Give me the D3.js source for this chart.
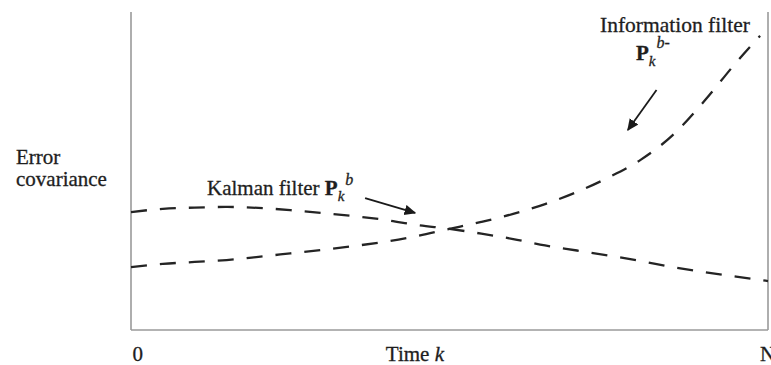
<!DOCTYPE html>
<html>
<head>
<meta charset="utf-8">
<script src="https://cdn.jsdelivr.net/npm/d3@7"></script>
<style>
  body { margin: 0; background: #fff; }
  svg { display: block; }
  text { font-family: "Liberation Serif", "Times New Roman", serif; fill: #1e1e1e; stroke: #1e1e1e; stroke-width: 0.3px; }
</style>
</head>
<body>
<svg id="chart" width="771" height="365"></svg>
<script>
// Time steps k = 0 .. N (N = 20)
const timeSteps = d3.range(0, 21);

// Kalman filter forward covariance P_k^b
const kalmanCov = [37.1, 38.1, 38.5, 38.7, 38.4, 37.7, 36.8, 35.8, 34.6, 33.0,
                   31.8, 30.3, 28.6, 26.6, 25.0, 23.4, 21.7, 19.8, 18.2, 16.8, 15.4];

// Information filter backward covariance P_k^b-
const infoSteps = d3.range(0, 20).concat([19.75]);
const infoCov = [19.8, 20.8, 21.4, 22.0, 23.0, 24.1, 25.2, 26.4, 27.8, 29.6,
                 31.8, 34.0, 36.5, 39.6, 43.4, 48.0, 53.5, 61.2, 72.0, 84.1, 92.5];

// Bottom axis labels and where they sit along k
const tickLabels = ["0", "Time", "N"];
const tickSteps = [0.05, 8, 19.75];

const svg = d3.select("#chart");

const x = d3.scaleLinear().domain([0, 20]).range([131, 768]);
const y = d3.scaleLinear().domain([0, 100]).range([330, 12]);

// Frame: left axis, bottom axis, right edge
const frame = svg.append("g")
  .attr("stroke", "#9a9a9a")
  .attr("stroke-width", 1.6)
  .attr("fill", "none");
frame.append("line").attr("x1", x(0)).attr("x2", x(0)).attr("y1", y(100)).attr("y2", y(0));
frame.append("line").attr("x1", x(0)).attr("x2", x(20)).attr("y1", y(0)).attr("y2", y(0));
frame.append("line").attr("x1", x(20)).attr("x2", x(20)).attr("y1", y(100)).attr("y2", y(0));

// Dashed covariance curves
const line = d3.line()
  .x(d => x(d[0]))
  .y(d => y(d[1]))
  .curve(d3.curveMonotoneX);

const curves = svg.append("g")
  .attr("fill", "none")
  .attr("stroke", "#242424")
  .attr("stroke-width", 2.3)
  .attr("stroke-dasharray", "16,13");

curves.append("path").attr("d", line(d3.zip(timeSteps, kalmanCov)));
curves.append("path").attr("d", line(d3.zip(infoSteps, infoCov)));

// Arrows pointing to each curve
svg.append("defs").append("marker")
  .attr("id", "head")
  .attr("viewBox", "0 0 10 10")
  .attr("refX", 9).attr("refY", 5)
  .attr("markerWidth", 6.5).attr("markerHeight", 6.5)
  .attr("markerUnits", "strokeWidth")
  .attr("orient", "auto")
  .append("path").attr("d", "M0,0.5 L10,5 L0,9.5 Z").attr("fill", "#1a1a1a");

const arrows = [
  { from: [7.35, 41.5], to: [8.92, 36.8] },
  { from: [16.5, 75.5], to: [15.6, 62.9] }
];
svg.append("g").selectAll("line").data(arrows).join("line")
  .attr("x1", d => x(d.from[0])).attr("y1", d => y(d.from[1]))
  .attr("x2", d => x(d.to[0])).attr("y2", d => y(d.to[1]))
  .attr("stroke", "#1a1a1a")
  .attr("stroke-width", 1.8)
  .attr("marker-end", "url(#head)");

// Axis labels along the bottom
const labels = svg.append("g").attr("font-size", 21);
tickLabels.forEach((t, i) => {
  const tx = labels.append("text").attr("x", x(tickSteps[i])).attr("y", 361).text(t);
  if (t === "Time") tx.append("tspan").attr("font-style", "italic").text(" k");
});

// Y axis title
const yTitle = svg.append("text").attr("font-size", 21);
yTitle.append("tspan").attr("x", 16).attr("y", 164).text("Error");
yTitle.append("tspan").attr("x", 16).attr("y", 186).text("covariance");

// Kalman filter label
const kal = svg.append("text").attr("font-size", 21).attr("x", 207).attr("y", 195);
kal.append("tspan").text("Kalman filter ");
kal.append("tspan").attr("font-weight", "bold").text("P");
kal.append("tspan").attr("font-style", "italic").attr("font-size", 15).attr("dy", 6).text("k");
kal.append("tspan").attr("font-style", "italic").attr("font-size", 16).attr("dx", 1).attr("dy", -16).text("b");

// Information filter label
svg.append("text").attr("font-size", 21.5).attr("x", 600).attr("y", 32).text("Information filter");
const inf = svg.append("text").attr("font-size", 21).attr("x", 636).attr("y", 60);
inf.append("tspan").attr("font-weight", "bold").text("P");
inf.append("tspan").attr("font-style", "italic").attr("font-size", 15).attr("dy", 6).text("k");
inf.append("tspan").attr("font-style", "italic").attr("font-size", 16).attr("dx", 1).attr("dy", -18).text("b-");
</script>
</body>
</html>
